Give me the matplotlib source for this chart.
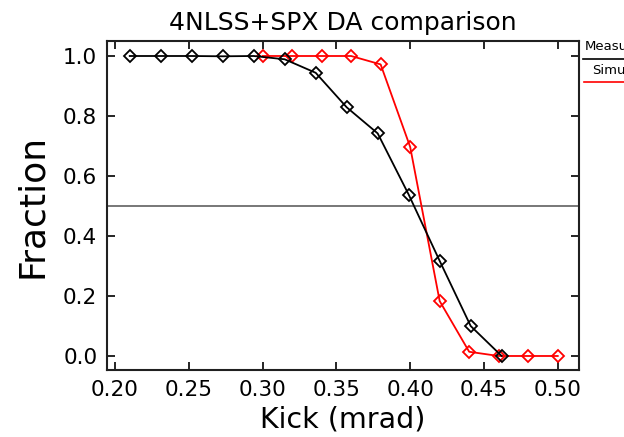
import matplotlib
matplotlib.use("Agg")
import matplotlib.pyplot as plt
from matplotlib.lines import Line2D

title = "4NLSS+SPX DA comparison"
xlabel = "Kick (mrad)"
ylabel = "Fraction"

meas_kick = [0.210, 0.231, 0.252, 0.273, 0.294, 0.315, 0.336, 0.357, 0.378,
             0.399, 0.420, 0.441, 0.462]
meas_frac = [1.0, 1.0, 1.0, 0.999, 1.0, 0.989, 0.944, 0.829, 0.742,
             0.538, 0.317, 0.100, 0.0]

sim_kick = [0.30, 0.32, 0.34, 0.36, 0.38, 0.40, 0.42, 0.44, 0.46, 0.48, 0.50]
sim_frac = [1.0, 1.0, 1.0, 1.0, 0.972, 0.697, 0.183, 0.014, 0.0, 0.0, 0.0]

xticks = [0.20, 0.25, 0.30, 0.35, 0.40, 0.45, 0.50]
yticks = [0.0, 0.2, 0.4, 0.6, 0.8, 1.0]
legend_labels = ["Measured", "Simulated"]

W, H = 624, 437
fig = plt.figure(figsize=(W / 100, H / 100), dpi=100)
ax = fig.add_axes([107 / W, 1 - 370 / H, (579 - 107) / W, (370 - 41) / H])

ax.axhline(0.5, color="#606060", lw=1.2, zorder=1)
ax.plot(meas_kick, meas_frac, color="black", lw=1.3, marker="D", ms=6,
        mfc="none", mec="black", mew=1.3, zorder=3)
ax.plot(sim_kick, sim_frac, color="red", lw=1.3, marker="D", ms=6,
        mfc="none", mec="red", mew=1.3, zorder=2)

ax.set_xlim(0.1946, 0.5144)
ax.set_ylim(-0.0467, 1.05)
ax.set_xticks(xticks)
ax.set_xticklabels([f"{v:.2f}" for v in xticks])
ax.set_yticks(yticks)
ax.set_yticklabels([f"{v:.1f}" for v in yticks])
ax.tick_params(direction="in", length=6, width=1.2, top=True, right=True,
               labelsize=15.5, pad=7, colors="black")
for s in ax.spines.values():
    s.set_linewidth(1.5)
    s.set_color("#202020")

ax.set_title(title, fontsize=18, pad=8)
ax.set_xlabel(xlabel, fontsize=20.5, labelpad=4)
ax.set_ylabel(ylabel, fontsize=26, labelpad=10)

# legend outside on the right (cut by the figure edge, as in the reference)
fig.text(585 / W, 1 - 46 / H, legend_labels[0], fontsize=9.5, va="center", ha="left")
fig.add_artist(Line2D([583 / W, 1.0], [1 - 59 / H, 1 - 59 / H], color="black", lw=1.2))
fig.text(592 / W, 1 - 70 / H, legend_labels[1], fontsize=9.5, va="center", ha="left")
fig.add_artist(Line2D([584 / W, 1.0], [1 - 82 / H, 1 - 82 / H], color="red", lw=1.2))

fig.savefig("out.png", dpi=100)
